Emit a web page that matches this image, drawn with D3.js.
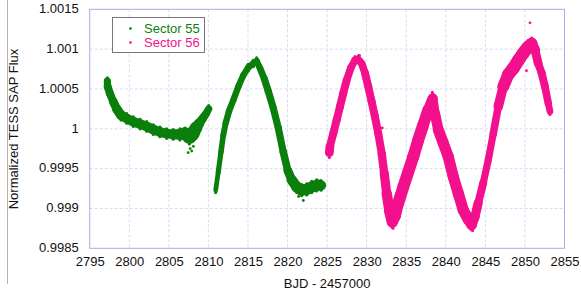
<!DOCTYPE html>
<html><head><meta charset="utf-8">
<script src="https://cdn.jsdelivr.net/npm/d3@7"></script>
<style>body{margin:0;background:#fff} svg{display:block}</style>
</head><body>
<svg id="c" width="581" height="294"></svg>
<script>
// ---------- data ----------
const xTicks = [2795,2800,2805,2810,2815,2820,2825,2830,2835,2840,2845,2850,2855];
const yTicks = [0.9985,0.999,0.9995,1,1.0005,1.001,1.0015];
const yTickLabels = ["0.9985","0.999","0.9995","1","1.0005","1.001","1.0015"];
const seriesNames = ["Sector 55","Sector 56"];

// Sector 55, first orbit (centre of the point cloud and its half-spread)
const s55aTime = [2797.23,2797.27,2797.57,2797.98,2798.41,2798.96,2799.68,2800.51,2801.36,2802.20,2803.04,2803.88,2804.73,2805.56,2806.41,2807.04,2807.59,2808.01,2808.43,2808.85,2809.28,2809.70,2810.04];
const s55aFlux = [1.00060,1.00053,1.00044,1.00034,1.00025,1.00017,1.00013,1.00009,1.00006,1.00003,0.99999,0.99996,0.99994,0.99993,0.99993,0.99994,0.99990,0.99994,1.00001,1.00007,1.00013,1.00019,1.00025];
const s55aScatter = [0.00004,0.00005,0.00005,0.00005,0.00006,0.00006,0.00006,0.00006,0.00006,0.00006,0.00006,0.00006,0.00006,0.00006,0.00007,0.00007,0.00009,0.00009,0.00007,0.00006,0.00005,0.00005,0.00004];
// Sector 55, second orbit
const s55bTime = [2810.92,2811.25,2811.59,2811.88,2812.18,2812.60,2813.15,2813.78,2814.41,2815.04,2815.67,2816.10,2816.52,2817.06,2817.57,2818.20,2818.83,2819.46,2820.02,2820.52,2821.16,2821.79,2822.42,2823.05,2823.68,2824.23];
const s55bFlux = [0.99923,0.99946,0.99971,0.99992,1.00007,1.00022,1.00036,1.00053,1.00067,1.00077,1.00082,1.00085,1.00076,1.00063,1.00047,1.00026,1.00001,0.99971,0.99948,0.99936,0.99927,0.99923,0.99924,0.99927,0.99929,0.99929];
const s55bScatter = [0.00003,0.00003,0.000035,0.000035,0.00004,0.00004,0.00004,0.00004,0.00004,0.00004,0.00004,0.00004,0.00004,0.000045,0.000045,0.000045,0.000045,0.000045,0.00005,0.00006,0.00007,0.00007,0.00007,0.00007,0.00007,0.00006];
// Sector 56
const s56Time = [2825.28,2825.36,2825.78,2826.21,2826.63,2827.05,2827.47,2827.98,2828.52,2828.94,2829.37,2829.79,2830.20,2830.63,2831.05,2831.47,2831.90,2832.22,2832.53,2832.86,2833.24,2833.58,2834.00,2834.63,2835.26,2835.89,2836.52,2837.15,2837.78,2838.34,2838.63,2839.05,2839.68,2840.31,2840.94,2841.58,2842.21,2842.84,2843.27,2843.69,2844.10,2844.73,2845.37,2846.00,2846.63,2847.26,2847.89,2848.53,2849.16,2849.79,2850.42,2850.85,2851.27,2851.68,2852.11,2852.53,2852.95,2853.16];
const s56Flux = [0.99970,0.99978,0.99994,1.00011,1.00028,1.00045,1.00061,1.00076,1.00086,1.00087,1.00082,1.00070,1.00053,1.00034,1.00015,0.99994,0.99969,0.99944,0.99919,0.99898,0.99883,0.99890,0.99907,0.99927,0.99946,0.99965,0.99986,1.00005,1.00024,1.00038,1.00019,0.99999,0.99982,0.99965,0.99940,0.99919,0.99898,0.99886,0.99879,0.99890,0.99907,0.99932,0.99961,0.99994,1.00028,1.00053,1.00068,1.00076,1.00086,1.00095,1.00103,1.00107,1.00099,1.00082,1.00070,1.00053,1.00032,1.00022];
const s56Scatter = [0.00006,0.00005,0.00005,0.00005,0.00005,0.00005,0.00005,0.000045,0.000045,0.000045,0.000045,0.00005,0.00005,0.00005,0.00005,0.00005,0.00005,0.000055,0.00006,0.00007,0.00007,0.00007,0.000075,0.000075,0.000075,0.000075,0.000075,0.000075,0.00007,0.00006,0.00006,0.00007,0.00007,0.00007,0.00007,0.00007,0.00007,0.00007,0.00006,0.00006,0.000055,0.000045,0.000045,0.000045,0.00005,0.00007,0.00008,0.00008,0.00008,0.00008,0.00008,0.00007,0.00006,0.00005,0.00005,0.00005,0.000045,0.00004];
// isolated outliers
const s55OutTime = [2807.45,2807.7,2807.9,2808.1,2822.0,2821.4,2823.9];
const s55OutFlux = [0.99970,0.99975,0.99972,0.99978,0.99910,0.99915,0.99935];
const s56OutTime = [2831.97,2850.64,2850.20,2833.35,2843.40,2838.30,2829.10];
const s56OutFlux = [1.00001,1.00133,1.00073,0.99875,0.99872,1.00046,1.00092];

// ---------- styles ----------
const colors = ["#0b7f0b","#f2108c"];
const font = "'Liberation Sans', Arial, Helvetica, sans-serif";

const svg = d3.select("#c");
const x = d3.scaleLinear().domain([2795,2855]).range([89.7,564.5]);
const y = d3.scaleLinear().domain([0.9985,1.0015]).range([248.3,9.3]);
const pxPerFlux = Math.abs(y(1) - y(1.001)) / 0.001;

// left frame line
svg.append("line").attr("x1",7.5).attr("x2",7.5).attr("y1",0).attr("y2",284)
  .attr("stroke","#b4b4b4").attr("stroke-width",1);

// grid
const grid = svg.append("g");
grid.selectAll("line.gx").data(xTicks.slice(1,-1)).join("line")
  .attr("x1",d=>x(d)).attr("x2",d=>x(d)).attr("y1",y.range()[1]).attr("y2",y.range()[0])
  .attr("stroke","#d9d9f7").attr("stroke-dasharray","3,2");
grid.selectAll("line.gy").data(yTicks.slice(1,-1)).join("line")
  .attr("y1",d=>y(d)).attr("y2",d=>y(d)).attr("x1",x.range()[0]).attr("x2",x.range()[1])
  .attr("stroke","#d9d9f7").attr("stroke-dasharray","3,2");

// data layer
const plot = svg.append("g");
function band(times, flux, scatter, color){
  const pts = times.map((t,i)=>({t, f:flux[i], s:scatter[i]}));
  const segs = d3.pairs(pts);
  plot.append("g").selectAll("line").data(segs).join("line")
    .attr("x1",d=>x(d[0].t)).attr("y1",d=>y(d[0].f))
    .attr("x2",d=>x(d[1].t)).attr("y2",d=>y(d[1].f))
    .attr("stroke",color).attr("stroke-linecap","round")
    .attr("stroke-width",d=>(d[0].s+d[1].s)*pxPerFlux);
  const edge = [];
  pts.forEach(p=>{edge.push({t:p.t,f:p.f+p.s});edge.push({t:p.t,f:p.f-p.s});});
  plot.append("g").selectAll("circle").data(edge).join("circle")
    .attr("cx",d=>x(d.t)).attr("cy",d=>y(d.f)).attr("r",1.6).attr("fill",color);
}
band(s55aTime,s55aFlux,s55aScatter,colors[0]);
band(s55bTime,s55bFlux,s55bScatter,colors[0]);
band(s56Time,s56Flux,s56Scatter,colors[1]);
function outliers(times, flux, color){
  plot.append("g").selectAll("circle").data(times.map((t,i)=>({t,f:flux[i]}))).join("circle")
    .attr("cx",d=>x(d.t)).attr("cy",d=>y(d.f)).attr("r",1.4).attr("fill",color);
}
outliers(s55OutTime,s55OutFlux,colors[0]);
outliers(s56OutTime,s56OutFlux,colors[1]);

// frame
svg.append("rect").attr("x",x.range()[0]).attr("y",y.range()[1])
  .attr("width",x.range()[1]-x.range()[0]).attr("height",y.range()[0]-y.range()[1])
  .attr("fill","none").attr("stroke","#a9a9ee").attr("stroke-width",1);

// axes labels
const xAxis = d3.axisBottom(x).tickValues(xTicks).tickSize(0).tickPadding(8).tickFormat(d3.format("d"));
const gx = svg.append("g").attr("transform",`translate(0,${y.range()[0]})`).call(xAxis);
gx.select(".domain").remove();
gx.selectAll("text").attr("font-family",font).attr("font-size",13).attr("fill","#111");

const yAxis = d3.axisLeft(y).tickValues(yTicks).tickSize(0).tickPadding(11)
  .tickFormat((d,i)=>yTickLabels[i]);
const gy = svg.append("g").attr("transform",`translate(${x.range()[0]},0)`).call(yAxis);
gy.select(".domain").remove();
gy.selectAll("text").attr("font-family",font).attr("font-size",13).attr("fill","#111").attr("dy","0.25em");

svg.append("text").attr("x",(x.range()[0]+x.range()[1])/2).attr("y",288)
  .attr("text-anchor","middle").attr("font-family",font).attr("font-size",13).attr("fill","#111")
  .text("BJD - 2457000");
svg.append("text").attr("transform","translate(18,129) rotate(-90)")
  .attr("text-anchor","middle").attr("font-family",font).attr("font-size",13).attr("fill","#111")
  .text("Normalized TESS SAP Flux");

// legend
const lg = svg.append("g");
lg.append("rect").attr("x",112.5).attr("y",17.5).attr("width",92).attr("height",35)
  .attr("fill","#fff").attr("stroke","#777").attr("stroke-width",1);
seriesNames.forEach((n,i)=>{
  lg.append("circle").attr("cx",130.5).attr("cy",28.5+i*14).attr("r",1.3).attr("fill",colors[i]);
  lg.append("text").attr("x",144).attr("y",33+i*14).attr("font-family",font).attr("font-size",13)
    .attr("fill",colors[i]).text(n);
});
</script>
</body></html>
